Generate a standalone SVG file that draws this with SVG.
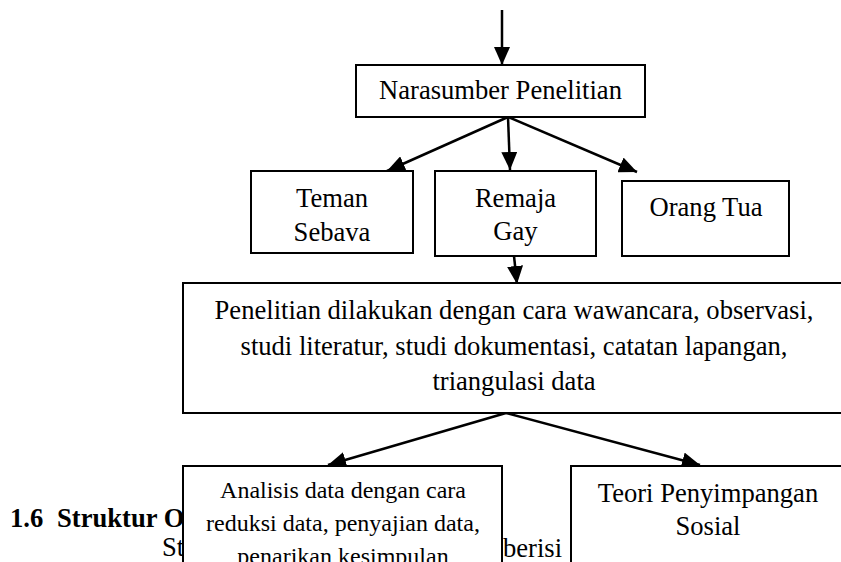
<svg xmlns="http://www.w3.org/2000/svg" width="841" height="562" viewBox="0 0 841 562">
<style>
  text { font-family: "Liberation Serif", "Times New Roman", serif; fill: #000; }
  .t { font-size: 26.6px; text-anchor: middle; }
  .s { font-size: 24px; text-anchor: middle; }
  .bg { font-size: 26.6px; }
  .bold { font-weight: bold; }
  .box { fill: #fff; stroke: #000; stroke-width: 2; }
  .edge { stroke: #000; stroke-width: 2.5; fill: none; marker-end: url(#arrow); }
</style>
<defs>
  <marker id="arrow" markerUnits="userSpaceOnUse" markerWidth="18" markerHeight="16" viewBox="0 0 18 16" refX="18" refY="8" orient="auto">
    <path d="M0,0 L18,8 L0,16 z" fill="#000"/>
  </marker>
</defs>
<rect width="841" height="562" fill="#fff"/>

<g id="background-text">
  <text class="bg bold" x="10" y="527">1.6</text>
  <text class="bg bold" x="57" y="527">Struktur O</text>
  <text class="bg" x="162" y="556">St</text>
  <text class="bg" x="503" y="557">berisi</text>
</g>

<g id="connectors">
  <line class="edge" x1="502" y1="10" x2="502" y2="65"/>
  <line class="edge" x1="508" y1="117" x2="387" y2="171"/>
  <line class="edge" x1="508" y1="117" x2="510" y2="170"/>
  <line class="edge" x1="508" y1="117" x2="637" y2="172"/>
  <line class="edge" x1="514" y1="256" x2="517" y2="284"/>
  <line class="edge" x1="506" y1="413" x2="328" y2="465"/>
  <line class="edge" x1="506" y1="413" x2="700" y2="465"/>
</g>

<g id="node-narasumber">
  <rect class="box" x="356" y="65" width="289" height="52"/>
  <text class="t" x="500.5" y="99">Narasumber Penelitian</text>
</g>

<g id="node-teman">
  <rect class="box" x="251" y="171" width="162" height="82"/>
  <text class="t" x="332" y="207">Teman</text>
  <text class="t" x="332" y="241">Sebava</text>
</g>

<g id="node-remaja">
  <rect class="box" x="435" y="171" width="161" height="85"/>
  <text class="t" x="515.5" y="207">Remaja</text>
  <text class="t" x="515.5" y="240">Gay</text>
</g>

<g id="node-orangtua">
  <rect class="box" x="622" y="181" width="167" height="75"/>
  <text class="t" x="706" y="216">Orang Tua</text>
</g>

<g id="node-penelitian">
  <rect class="box" x="183" y="283" width="670" height="130"/>
  <text class="t" x="514" y="319">Penelitian dilakukan dengan cara wawancara, observasi,</text>
  <text class="t" x="514" y="355">studi literatur, studi dokumentasi, catatan lapangan,</text>
  <text class="t" x="514" y="390">triangulasi data</text>
</g>

<g id="node-analisis">
  <rect class="box" x="183" y="466" width="319" height="110"/>
  <text class="s" x="343" y="498">Analisis data dengan cara</text>
  <text class="s" x="343" y="531">reduksi data, penyajian data,</text>
  <text class="s" x="343" y="564">penarikan kesimpulan</text>
</g>

<g id="node-teori">
  <rect class="box" x="571" y="466" width="290" height="110"/>
  <text class="t" x="708" y="502">Teori Penyimpangan</text>
  <text class="t" x="708" y="535">Sosial</text>
</g>
</svg>
